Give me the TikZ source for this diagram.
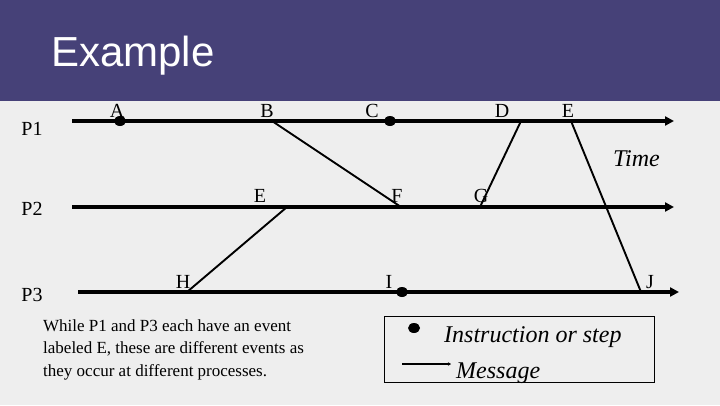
\documentclass[tikz,border=0pt]{standalone}
\usepackage{fontspec}
\setmainfont{Liberation Serif}
\newfontfamily\titlefont{Liberation Sans}
\usetikzlibrary{arrows.meta,shapes.geometric}
\definecolor{bgcol}{RGB}{238,238,238}
\definecolor{bannercol}{RGB}{70,65,120}
\tikzset{
  procline/.style={line width=3.2pt,-{Triangle[length=9pt,width=9pt]}},
  msgline/.style={line width=1.9pt},
  evdot/.style={ellipse,fill=black,inner sep=0pt,minimum width=12pt,minimum height=10pt},
  evlabel/.style={anchor=base,inner sep=0pt,font=\fontsize{20}{24}\selectfont},
  plabel/.style={anchor=base,inner sep=0pt,font=\fontsize{20}{24}\selectfont},
  itlabel/.style={anchor=base west,inner sep=0pt,font=\fontsize{24}{28}\selectfont\itshape},
  legendbox/.style={draw,line width=0.8pt,inner sep=0pt,minimum width=270pt,minimum height=66pt}
}
\begin{document}
\begin{tikzpicture}[x=1pt,y=-1pt]
\useasboundingbox (0,0) rectangle (720,405);
\fill[bgcol] (0,0) rectangle (720,405);
\fill[bannercol] (0,0) rectangle (720,101);
\node[anchor=base west,inner sep=0pt,text=white,font=\titlefont\fontsize{42}{48}\selectfont] (title) at (51,66) {Example};

% process lines
\coordinate (p1s) at (72,121);  \coordinate (p1e) at (674,121);
\coordinate (p2s) at (72,207);  \coordinate (p2e) at (674,207);
\coordinate (p3s) at (78,292);  \coordinate (p3e) at (679,292);
\draw[procline] (p1s) -- (p1e);
\draw[procline] (p2s) -- (p2e);
\draw[procline] (p3s) -- (p3e);

\node[plabel] (P1) at (32,135) {P1};
\node[plabel] (P2) at (32,215) {P2};
\node[plabel] (P3) at (32,301) {P3};

% events
\node[evdot] (A) at (120,121) {};
\node[evdot] (C) at (390,121) {};
\node[evdot] (I) at (402,292) {};
\coordinate (B) at (272,121);
\coordinate (D) at (521,121);
\coordinate (E1) at (571,121);
\coordinate (E2) at (287,207);
\coordinate (F) at (401,207);
\coordinate (G) at (480,207);
\coordinate (H) at (187,292);
\coordinate (J) at (641,292);

% messages
\draw[msgline] (B) -- (F);
\draw[msgline] (E2) -- (H);
\draw[msgline] (D) -- (G);
\draw[msgline] (E1) -- (J);

% event labels
\node[evlabel] (lA) at (117,117) {A};
\node[evlabel] (lB) at (267,117) {B};
\node[evlabel] (lC) at (372,117) {C};
\node[evlabel] (lD) at (502,117) {D};
\node[evlabel] (lE1) at (568,117) {E};
\node[evlabel] (lE2) at (260,202) {E};
\node[evlabel] (lF) at (397,202) {F};
\node[evlabel] (lG) at (481,202) {G};
\node[evlabel] (lH) at (183,288) {H};
\node[evlabel] (lI) at (389,288) {I};
\node[evlabel] (lJ) at (650,288) {J};

\node[itlabel] (time) at (613,166) {Time};

% note
\node[anchor=north west,inner sep=0pt,align=left,font=\fontsize{17}{22.5}\selectfont] (note) at (43,319)
  {While P1 and P3 each have an event\\labeled E, these are different events as\\they occur at different processes.};

% legend
\node[legendbox] (legend) at (519,349) {};
\node[evdot] (ldot) at (414,328) {};
\coordinate (lm1) at (402,364);
\coordinate (lm2) at (451,364);
\draw[line width=1.4pt,-{Stealth[length=3pt,width=3.5pt]}] (lm1) -- (lm2);
\node[itlabel] (linstr) at (444,342) {Instruction or step};
\node[itlabel] (lmsg) at (456,378) {Message};
\end{tikzpicture}
\end{document}
